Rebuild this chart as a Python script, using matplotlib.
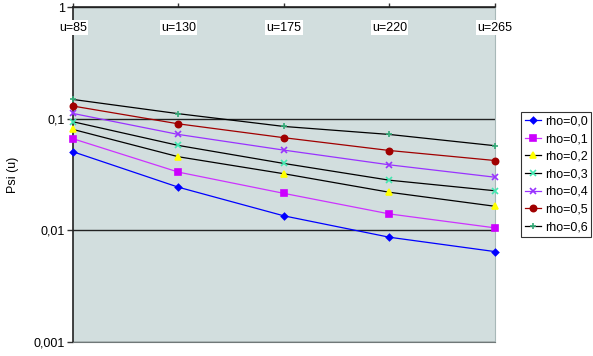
import matplotlib
matplotlib.use("Agg")
from matplotlib import pyplot as plt
from matplotlib.ticker import FixedLocator, NullLocator

plt.rcParams['font.family'] = ['Liberation Sans', 'DejaVu Sans']

# x categories (shown on top)
u_labels = ['u=85', 'u=130', 'u=175', 'u=220', 'u=265']
u_pos = [0, 1, 2, 3, 4]

# Psi(u) per rho
rho_00 = [0.0506, 0.0243, 0.01345, 0.00865, 0.00643]
rho_01 = [0.0662, 0.0332, 0.0214, 0.0140, 0.0105]
rho_02 = [0.0802, 0.0456, 0.0321, 0.0219, 0.0164]
rho_03 = [0.0940, 0.0576, 0.0397, 0.0281, 0.0226]
rho_04 = [0.1116, 0.0723, 0.0523, 0.0386, 0.0299]
rho_05 = [0.1300, 0.0900, 0.0676, 0.0519, 0.0422]
rho_06 = [0.1490, 0.1110, 0.0853, 0.0723, 0.0573]

fig = plt.figure(figsize=(5.93, 3.56), dpi=100)
ax = fig.add_axes([0.1231, 0.0402, 0.7116, 0.9393])
ax.set_facecolor('#D2DEDE')

# (values, label, line colour, marker, marker colour, size)
series = [
    (rho_00, 'rho=0,0', '#0000FF', 'D', '#0000FF', 3.2),
    (rho_01, 'rho=0,1', '#CC33FF', 's', '#CC00FF', 4.5),
    (rho_02, 'rho=0,2', '#000000', '^', '#FFFF00', 4.5),
    (rho_03, 'rho=0,3', '#000000', 'x', '#40E8B0', 4),
    (rho_04, 'rho=0,4', '#9933FF', 'x', '#9933FF', 4),
    (rho_05, 'rho=0,5', '#A00000', 'o', '#A00000', 4.5),
    (rho_06, 'rho=0,6', '#000000', '+', '#33AA77', 5),
]
for vals, lab, lc, mk, mc, ms in series:
    ax.plot(u_pos, vals, color=lc, lw=0.9, marker=mk, markersize=ms,
            markerfacecolor=mc, markeredgecolor=mc, markeredgewidth=1.2,
            label=lab, clip_on=False, zorder=3)

ax.set_yscale('log')
ax.set_ylim(0.001, 1)
ax.set_xlim(0, 4)
ax.yaxis.set_major_locator(FixedLocator([0.001, 0.01, 0.1, 1]))
ax.yaxis.set_minor_locator(NullLocator())
ax.set_yticklabels(['0,001', '0,01', '0,1', '1'])
ax.grid(axis='y', which='major', color='#222222', lw=1)

ax.xaxis.tick_top()
ax.set_xticks(u_pos)
ax.set_xticklabels([])
ax.tick_params(axis='x', direction='out', length=3, width=1, color='#333333')
ax.tick_params(axis='y', direction='out', length=4, width=1, color='#333333',
               labelsize=9, pad=2)

for x, lab in zip(u_pos, u_labels):
    ax.text(x, 0.939, lab, transform=ax.get_xaxis_transform(), ha='center',
            va='center', fontsize=9,
            bbox=dict(facecolor='white', edgecolor='none', pad=1))

for side in ['top', 'left']:
    ax.spines[side].set_color('#222222')
    ax.spines[side].set_linewidth(1.2)
ax.spines['bottom'].set_color('#707878')
ax.spines['right'].set_color('#A8B8B8')

ax.set_ylabel('Psi (u)', fontsize=9)
ax.yaxis.set_label_coords(-0.127, 0.5)

leg = fig.legend(loc='upper left', bbox_to_anchor=(0.8786, 0.6862),
                 fontsize=9, frameon=True, fancybox=False, handlelength=1.3,
                 handletextpad=0.3, labelspacing=0.45, borderpad=0.3,
                 borderaxespad=0)
leg.get_frame().set_edgecolor('black')
leg.get_frame().set_linewidth(0.8)

fig.savefig('out.png', dpi=100)
